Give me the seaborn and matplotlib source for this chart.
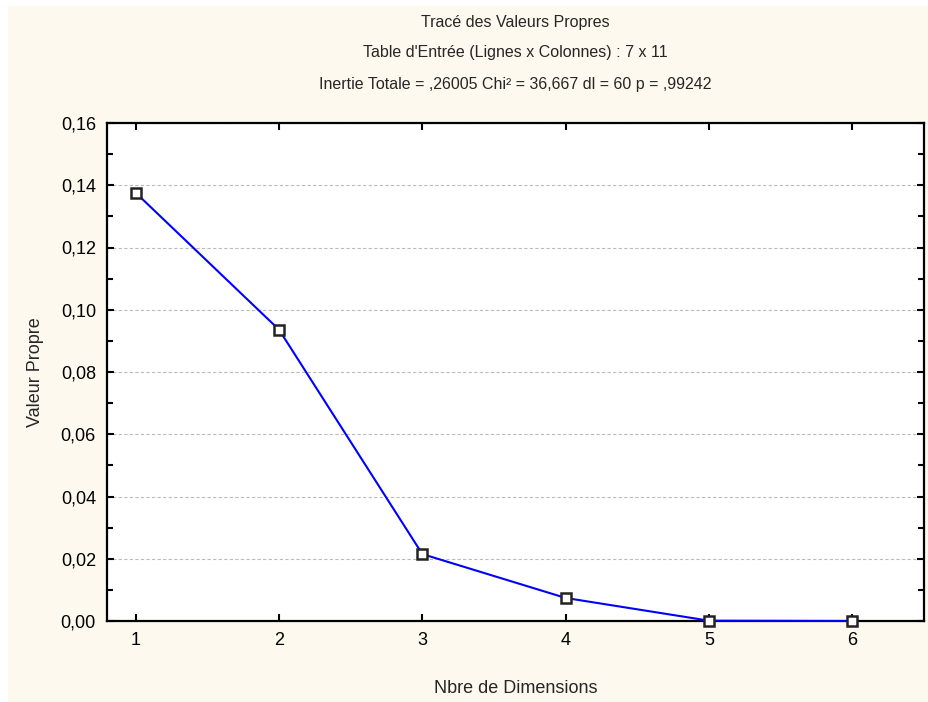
import numpy as np
import pandas as pd
import matplotlib
matplotlib.use("Agg")
import matplotlib.pyplot as plt
import seaborn as sns
from matplotlib.ticker import FuncFormatter, MultipleLocator
from matplotlib.patches import Rectangle

# Data
dimensions = [1, 2, 3, 4, 5, 6]
eigenvalues = [0.1376, 0.0936, 0.0215, 0.0074, 0.0001, 0.0]

title_lines = [
    "Tracé des Valeurs Propres",
    "Table d'Entrée (Lignes x Colonnes) : 7 x 11",
    "Inertie Totale = ,26005 Chi² = 36,667 dl = 60 p = ,99242",
]
y_ticks = [0.00, 0.02, 0.04, 0.06, 0.08, 0.10, 0.12, 0.14, 0.16]

df = pd.DataFrame({"dim": dimensions, "val": eigenvalues})

sns.set_style("ticks")
plt.rcParams['font.family'] = ['Liberation Sans', 'DejaVu Sans']

fig = plt.figure(figsize=(9.29, 7.02), dpi=100, facecolor="white")
# cream panel behind everything (small white margin top/left)
fig.patches.append(Rectangle((8 / 929, 0), 1 - 8 / 929, 1 - 6 / 702,
                             transform=fig.transFigure, facecolor="#fdf9ef",
                             edgecolor="none", zorder=-10))

ax = fig.add_axes([107 / 929, 81 / 702, (924 - 107) / 929, (621 - 123) / 702])
ax.set_facecolor("white")

sns.lineplot(data=df, x="dim", y="val", ax=ax, color="#0000ff", linewidth=1.5,
             marker="s", markersize=7, markerfacecolor="white",
             markeredgecolor="#222222", markeredgewidth=1.8, zorder=3,
             clip_on=False)

ax.set_xlim(0.8, 6.5)
ax.set_ylim(0, 0.16)
ax.set_xticks(dimensions)
ax.set_yticks(y_ticks)
ax.yaxis.set_minor_locator(MultipleLocator(0.01))
ax.yaxis.set_major_formatter(FuncFormatter(lambda v, p: f"{v:.2f}".replace(".", ",")))

ax.grid(axis="y", which="major", color="#bbbbbb", linestyle=(0, (3, 2)), linewidth=0.8)
ax.set_axisbelow(True)

for s in ax.spines.values():
    s.set_visible(True)
    s.set_linewidth(1.6)
    s.set_color("black")

ax.tick_params(which="both", direction="in", top=True, right=True,
               labelsize=13, colors="black", width=1.5)
ax.tick_params(which="major", length=5, pad=8)
ax.tick_params(which="minor", length=4)

ax.set_xlabel("Nbre de Dimensions", fontsize=13, labelpad=22)
ax.set_ylabel("Valeur Propre", fontsize=13, labelpad=12)

for i, line in enumerate(title_lines):
    fig.text(515 / 929, 1 - (22 + 31 * i) / 702, line, ha="center", va="center",
             fontsize=11.5)

fig.savefig("out.png", dpi=100, facecolor=fig.get_facecolor())
